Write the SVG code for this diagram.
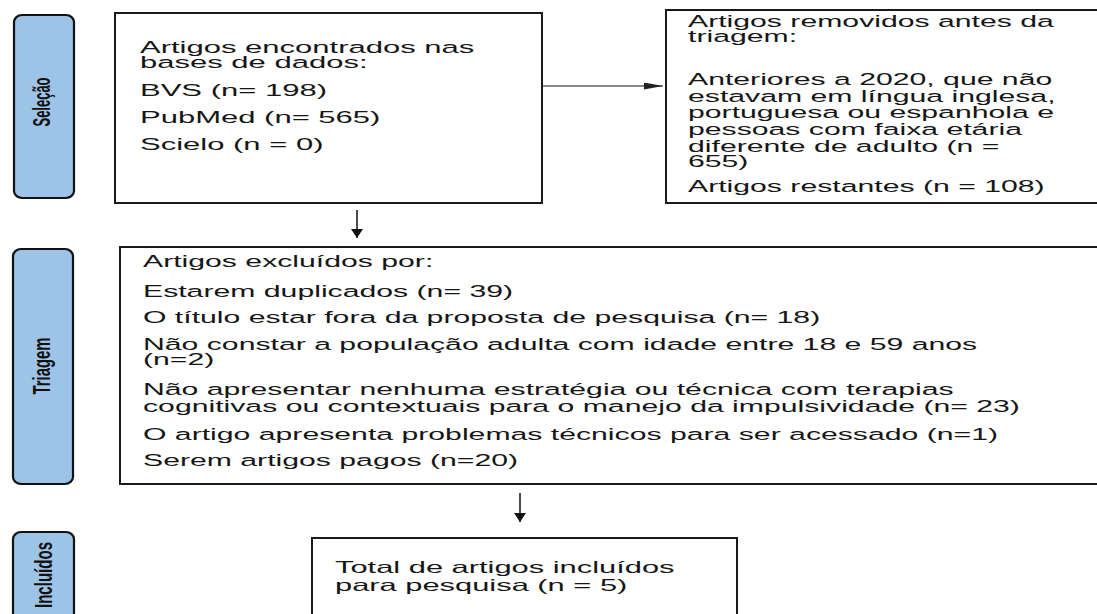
<svg xmlns="http://www.w3.org/2000/svg" width="1097" height="614" viewBox="0 0 1097 614">
<style>
.pill{fill:#9dc3e6;stroke:#111;stroke-width:2.2}
.box{fill:#fff;stroke:#1a1a1a;stroke-width:2}
.t{font-family:"Liberation Sans",Arial,sans-serif;font-size:16.5px;fill:#161616}
.lbl{font-family:"Liberation Sans",Arial,sans-serif;font-size:14px;font-weight:bold;fill:#111}
.con{stroke:#111;fill:none}
</style>
<defs>
<marker id="ah" markerUnits="userSpaceOnUse" markerWidth="12" markerHeight="12" refX="9" refY="6" orient="auto"><path d="M0,0 L9,6 L0,12 z" fill="#111"/></marker>
<marker id="ahl" markerUnits="userSpaceOnUse" markerWidth="20" markerHeight="8" refX="19" refY="3.5" orient="auto"><path d="M0,0 L19,3.5 L0,7 z" fill="#222"/></marker>
</defs>
<rect width="1097" height="614" fill="#fff"/>

<g id="stage-selecao">
<rect class="pill" x="14" y="15" width="60" height="183" rx="8" ry="7"/>
<text class="lbl" transform="translate(50,102) scale(1.75,1) rotate(-90)" text-anchor="middle" textLength="49" lengthAdjust="spacingAndGlyphs">Seleção</text>
</g>
<g id="stage-triagem">
<rect class="pill" x="13" y="249" width="60" height="235" rx="8" ry="7"/>
<text class="lbl" transform="translate(50,366) scale(1.75,1) rotate(-90)" text-anchor="middle" textLength="57" lengthAdjust="spacingAndGlyphs">Triagem</text>
</g>
<g id="stage-incluidos">
<rect class="pill" x="13" y="532" width="61" height="110" rx="8" ry="7"/>
<text class="lbl" transform="translate(52,575) scale(1.75,1) rotate(-90)" text-anchor="middle" textLength="66" lengthAdjust="spacingAndGlyphs">Incluídos</text>
</g>

<g id="box-encontrados">
<rect class="box" x="115" y="13" width="427" height="190"/>
<text class="t" transform="matrix(1.88 0 0 1 140 53)">Artigos encontrados nas</text>
<text class="t" transform="matrix(1.88 0 0 1 140 68)">bases de dados:</text>
<text class="t" transform="matrix(1.88 0 0 1 140 96)">BVS (n= 198)</text>
<text class="t" transform="matrix(1.88 0 0 1 140 123)">PubMed (n= 565)</text>
<text class="t" transform="matrix(1.88 0 0 1 140 150)">Scielo (n = 0)</text>
</g>

<g id="box-removidos">
<rect class="box" x="666" y="10" width="432" height="193"/>
<text class="t" transform="matrix(1.83 0 0 1 688 27)">Artigos removidos antes da</text>
<text class="t" transform="matrix(1.83 0 0 1 688 42)">triagem:</text>
<text class="t" transform="matrix(1.83 0 0 1 688 85)">Anteriores a 2020, que não</text>
<text class="t" transform="matrix(1.83 0 0 1 688 102)">estavam em língua inglesa,</text>
<text class="t" transform="matrix(1.83 0 0 1 688 118)">portuguesa ou espanhola e</text>
<text class="t" transform="matrix(1.83 0 0 1 688 135)">pessoas com faixa etária</text>
<text class="t" transform="matrix(1.83 0 0 1 688 152)">diferente de adulto (n =</text>
<text class="t" transform="matrix(1.83 0 0 1 688 167)">655)</text>
<text class="t" transform="matrix(1.83 0 0 1 688 192)">Artigos restantes (n = 108)</text>
</g>

<g id="box-excluidos">
<rect class="box" x="120" y="247" width="978" height="237"/>
<text class="t" transform="matrix(1.83 0 0 1 143 267)">Artigos excluídos por:</text>
<text class="t" transform="matrix(1.83 0 0 1 143 297)">Estarem duplicados (n= 39)</text>
<text class="t" transform="matrix(1.83 0 0 1 143 323)">O título estar fora da proposta de pesquisa (n= 18)</text>
<text class="t" transform="matrix(1.83 0 0 1 143 350)">Não constar a população adulta com idade entre 18 e 59 anos</text>
<text class="t" transform="matrix(1.83 0 0 1 143 365)">(n=2)</text>
<text class="t" transform="matrix(1.83 0 0 1 143 395)">Não apresentar nenhuma estratégia ou técnica com terapias</text>
<text class="t" transform="matrix(1.83 0 0 1 143 412)">cognitivas ou contextuais para o manejo da impulsividade (n= 23)</text>
<text class="t" transform="matrix(1.83 0 0 1 143 440)">O artigo apresenta problemas técnicos para ser acessado (n=1)</text>
<text class="t" transform="matrix(1.83 0 0 1 143 466)">Serem artigos pagos (n=20)</text>
</g>

<g id="box-incluidos">
<rect class="box" x="312" y="538" width="425" height="100"/>
<text class="t" transform="matrix(1.87 0 0 1 335 573)">Total de artigos incluídos</text>
<text class="t" transform="matrix(1.87 0 0 1 335 591)">para pesquisa (n = 5)</text>
</g>

<g id="connectors">
<line class="con" x1="543" y1="86" x2="663" y2="86" stroke-width="1" marker-end="url(#ahl)"/>
<line class="con" x1="357" y1="210" x2="357" y2="238" stroke-width="1.5" marker-end="url(#ah)"/>
<line class="con" x1="520" y1="493" x2="520" y2="522" stroke-width="1.5" marker-end="url(#ah)"/>
</g>
</svg>
